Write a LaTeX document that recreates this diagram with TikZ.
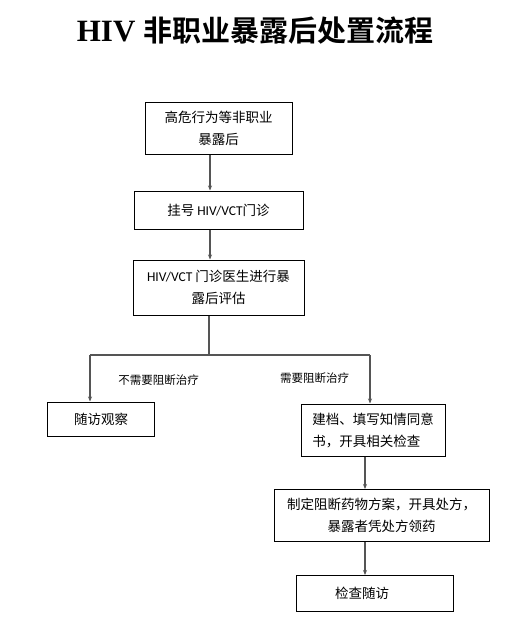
\documentclass[tikz,border=0pt]{standalone}
\usepackage{fontspec}
\usetikzlibrary{arrows.meta}
\newfontfamily\cjk{Noto Sans CJK SC}
\newfontfamily\cjkb{Noto Sans CJK SC Black}
\newfontfamily\latb{Liberation Serif}
\newfontfamily\lat{Carlito}
\definecolor{conn}{HTML}{555555}
\tikzset{
  box/.style={draw=black, line width=1pt, rectangle, inner sep=0pt, font=\cjk\fontsize{13.5}{22}\selectfont},
  conline/.style={draw=conn, line width=1.1pt},
  arr/.style={conline, -{Stealth[length=5pt,width=4pt]}},
  lbl/.style={inner sep=0pt, font=\cjk\fontsize{11.5}{14}\selectfont},
}
\begin{document}
\begin{tikzpicture}[x=1pt,y=-1pt]
\useasboundingbox (0,0) rectangle (519,635);
% title
\node[inner sep=0pt] (title) at (255,31) {\latb\bfseries\fontsize{31}{34}\selectfont HIV\ {\cjkb\fontsize{29}{34}\selectfont 非职业暴露后处置流程}};
% boxes
\node[box, minimum width=147pt, minimum height=52pt, align=center] (b1) at (218.5,128) {高危行为等非职业\\暴露后};
\node[box, minimum width=169pt, minimum height=38pt] (b2) at (218.5,210) {挂号 {\lat HIV/VCT}门诊};
\node[box, minimum width=171pt, minimum height=55pt, align=center] (b3) at (218.5,287.5) {{\lat HIV/VCT} 门诊医生进行暴\\露后评估};
\node[box, minimum width=107pt, minimum height=34pt] (b4) at (101,419) {随访观察};
\node[box, minimum width=144pt, minimum height=52pt, align=left] (b5) at (373,430) {建档、填写知情同意\\书，开具相关检查};
\node[box, minimum width=215pt, minimum height=52pt, align=center] (b6) at (381.5,515.5) {制定阻断药物方案，开具处方，\\暴露者凭处方领药};
\node[box, minimum width=157pt, minimum height=36pt] (b7) at (375,593.5) {\hspace*{-26pt}检查随访};
% helper coordinates
\coordinate (c1) at (210,0);
\coordinate (j) at (209,355);
\coordinate (jl) at (90,355);
\coordinate (jr) at (370,355);
\coordinate (c2) at (365,0);
% connectors
\draw[arr] (b1.south -| c1) -- (b2.north -| c1);
\draw[arr] (b2.south -| c1) -- (b3.north -| c1);
\draw[conline] (b3.south -| j) -- (j);
\draw[conline] (jl) -- (jr);
\draw[arr] (jl) -- (b4.north -| jl);
\draw[arr] (jr) -- (b5.north -| jr);
\draw[arr] (b5.south -| c2) -- (b6.north -| c2);
\draw[arr] (b6.south -| c2) -- (b7.north -| c2);
% labels
\node[lbl] (l1) at (158.5,380) {不需要阻断治疗};
\node[lbl] (l2) at (314.5,378) {需要阻断治疗};
\end{tikzpicture}
\end{document}
